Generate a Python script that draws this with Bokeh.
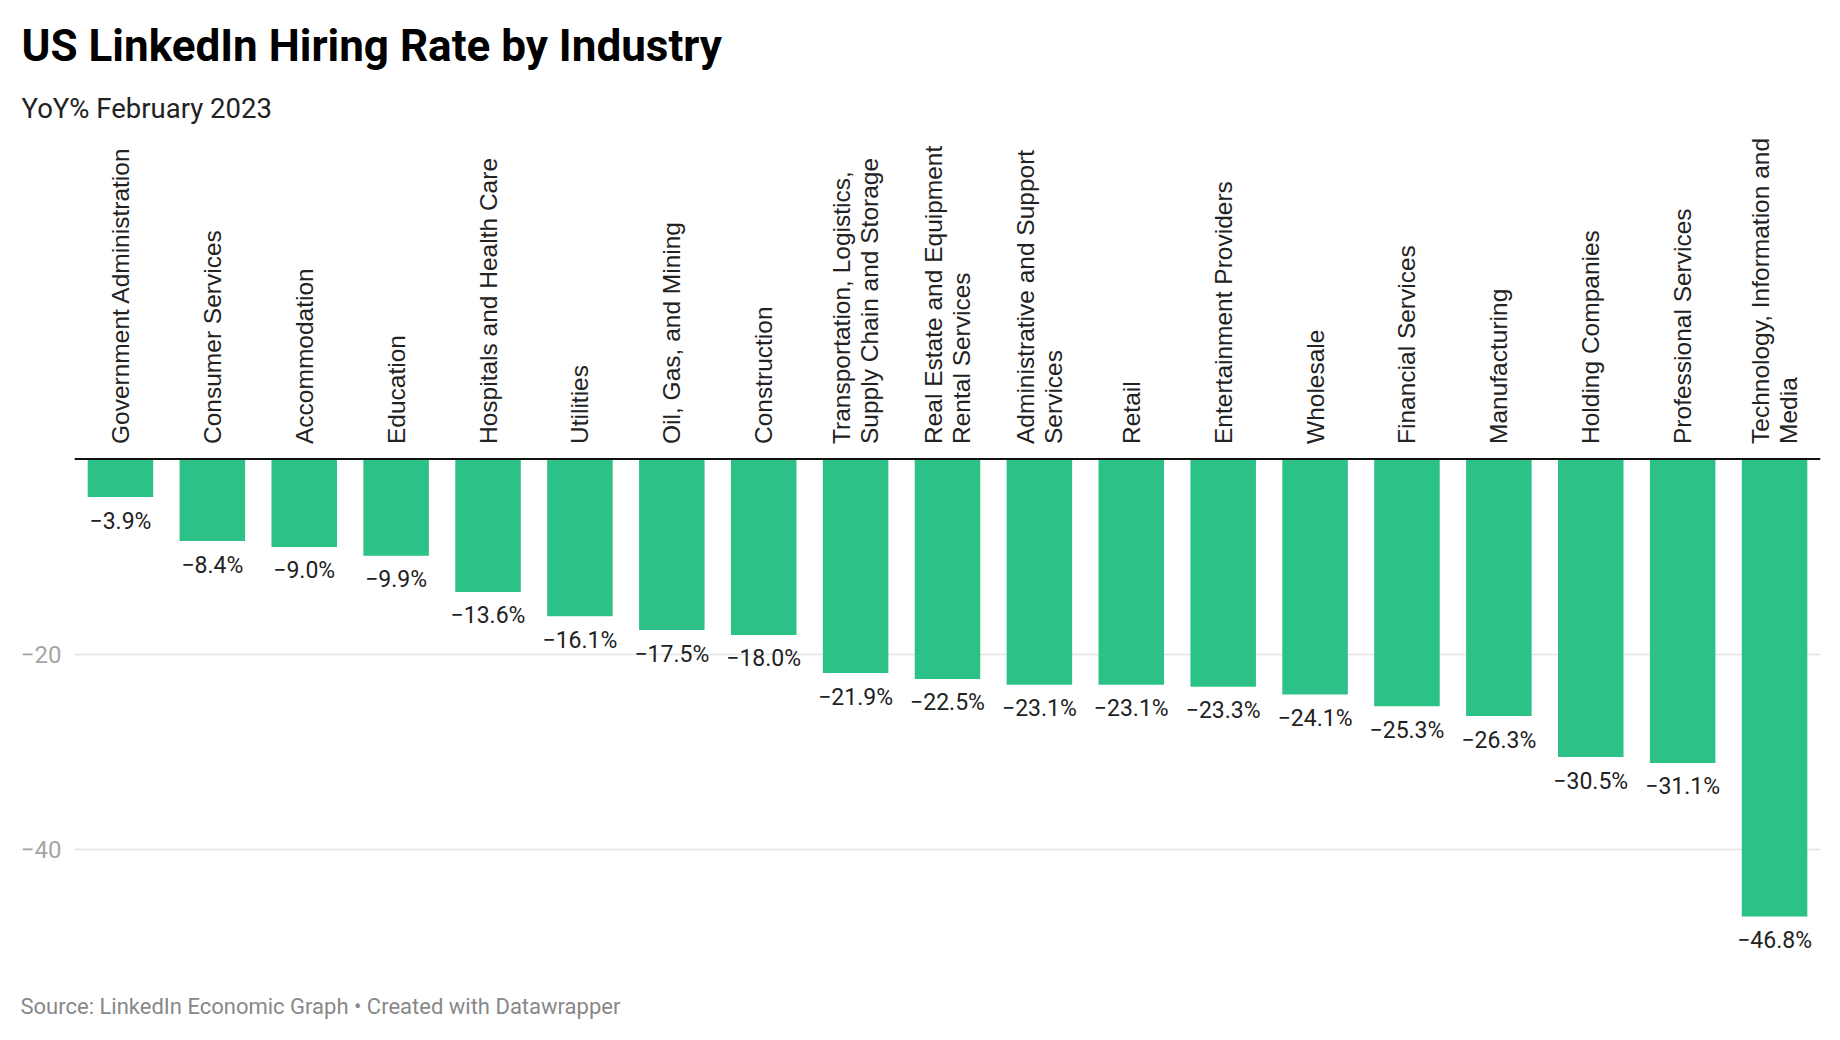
from bokeh.plotting import figure
from bokeh.models import (ColumnDataSource, FactorRange, Range1d, FixedTicker,
                          Span, Title, LinearAxis)
from bokeh.core.properties import value
from bokeh.embed import file_html
from bokeh.resources import INLINE

# ---- data ----
industries = [
    "Government Administration", "Consumer Services", "Accommodation", "Education",
    "Hospitals and Health Care", "Utilities", "Oil, Gas, and Mining", "Construction",
    "Transportation, Logistics, Supply Chain and Storage",
    "Real Estate and Equipment Rental Services",
    "Administrative and Support Services", "Retail", "Entertainment Providers",
    "Wholesale", "Financial Services", "Manufacturing", "Holding Companies",
    "Professional Services", "Technology, Information and Media",
]
label_lines = [
    ["Government Administration"], ["Consumer Services"], ["Accommodation"], ["Education"],
    ["Hospitals and Health Care"], ["Utilities"], ["Oil, Gas, and Mining"], ["Construction"],
    ["Transportation, Logistics,", "Supply Chain and Storage"],
    ["Real Estate and Equipment", "Rental Services"],
    ["Administrative and Support", "Services"], ["Retail"], ["Entertainment Providers"],
    ["Wholesale"], ["Financial Services"], ["Manufacturing"], ["Holding Companies"],
    ["Professional Services"], ["Technology, Information and", "Media"],
]
yoy = [-3.9, -8.4, -9.0, -9.9, -13.6, -16.1, -17.5, -18.0, -21.9, -22.5,
       -23.1, -23.1, -23.3, -24.1, -25.3, -26.3, -30.5, -31.1, -46.8]
y_ticks = [-40, -20]

# ---- figure ----
p = figure(
    x_range=FactorRange(*industries, range_padding=0),
    y_range=Range1d(-52.33, 32.99),
    width=1824, height=1024,
    min_border_left=74, min_border_right=4, min_border_top=136, min_border_bottom=54,
    x_axis_location=None, y_axis_location=None,
    toolbar_location=None, output_backend="svg",
    background_fill_color="white", border_fill_color="white",
)
p.outline_line_color = None
p.xgrid.visible = False

yaxis = LinearAxis(ticker=FixedTicker(ticks=y_ticks))
yaxis.major_label_overrides = {t: "\u2212" + str(abs(t)) for t in y_ticks}
yaxis.axis_line_color = None
yaxis.major_tick_line_color = None
yaxis.minor_tick_line_color = None
yaxis.major_tick_out = 0
yaxis.major_tick_in = 0
yaxis.major_label_standoff = 13
yaxis.major_label_text_font = "Roboto"
yaxis.major_label_text_font_size = "24px"
yaxis.major_label_text_color = "#a6a6a6"
p.add_layout(yaxis, "left")

p.ygrid.ticker = FixedTicker(ticks=y_ticks)
p.ygrid.grid_line_color = "#e3e3e3"
p.ygrid.grid_line_width = 1.5

# bars
src = ColumnDataSource(dict(
    x=industries, top=[0] * len(yoy), bottom=yoy,
    lab=["\u2212" + f"{abs(v):.1f}%" for v in yoy],
))
p.vbar(x="x", top="top", bottom="bottom", width=0.713, source=src,
       fill_color="#2cc187", line_color=None)

# value labels below bars
p.text(x="x", y="bottom", text="lab", source=src,
       text_font=value("Roboto"), text_font_size="23px", text_color="#222222",
       text_align="center", text_baseline="middle", y_offset=24)

# zero line
p.add_layout(Span(location=0, dimension="width", line_color="#111111", line_width=2))

# category labels (rotated)
cx, cl, co = [], [], []
for name, lines in zip(industries, label_lines):
    n = len(lines)
    for i, ln in enumerate(lines):
        cx.append(name)
        cl.append(ln)
        co.append((i - (n - 1) / 2) * 28.5)
lsrc = ColumnDataSource(dict(x=cx, y=[0] * len(cx), t=cl, xo=co))
p.text(x="x", y="y", text="t", x_offset="xo", source=lsrc, angle=1.5707963267948966,
       y_offset=-15, text_font=value("Liberation Sans"), text_font_size="24.5px",
       text_color="#222222", text_align="left", text_baseline="middle")

# titles
sub = Title(text="YoY% February 2023", align="left", offset=-53,
            text_font="Roboto", text_font_size="27.5px", text_font_style="normal",
            text_color="#222222", standoff=23)
p.add_layout(sub, "above")
ttl = Title(text="US LinkedIn Hiring Rate by Industry", align="left", offset=-53,
            text_font="Roboto", text_font_size="44px", text_font_style="bold",
            text_color="#000000", standoff=14)
p.add_layout(ttl, "above")

# source note (with a blank spacer panel between plot and note)
spacer = Title(text=" ", text_font_size="2px", standoff=17)
p.add_layout(spacer, "below")
srcnote = Title(text="Source: LinkedIn Economic Graph \u2022 Created with Datawrapper",
                align="left", offset=-54, text_font="Roboto", text_font_size="22px",
                text_font_style="normal", text_color="#888888", standoff=0)
p.add_layout(srcnote, "below")

open("out.html", "w").write(file_html(p, INLINE))
